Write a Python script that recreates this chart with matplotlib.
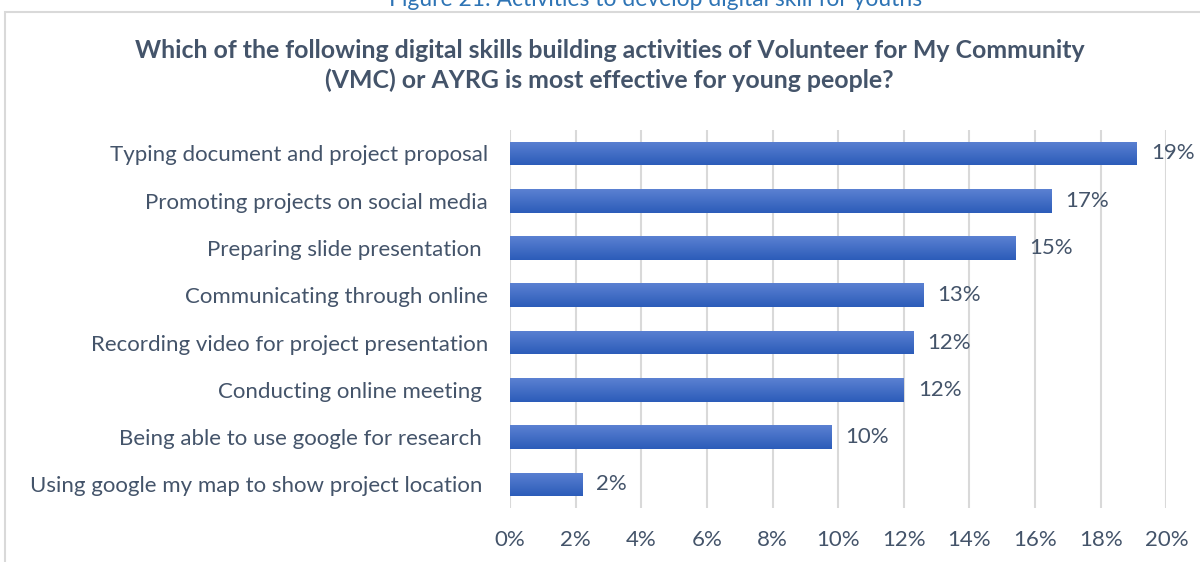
import numpy as np
import matplotlib.pyplot as plt
from matplotlib.patches import Rectangle
from matplotlib.ticker import PercentFormatter

plt.rcParams["font.family"] = ["Lato", "DejaVu Sans"]

labels = [
    "Typing document and project proposal",
    "Promoting projects on social media",
    "Preparing slide presentation ",
    "Communicating through online",
    "Recording video for project presentation",
    "Conducting online meeting ",
    "Being able to use google for research ",
    "Using google my map to show project location ",
]
values = [19.1, 16.5, 15.4, 12.6, 12.3, 12.0, 9.8, 2.2]
value_labels = ["19%", "17%", "15%", "13%", "12%", "12%", "10%", "2%"]
xticks = [0, 2, 4, 6, 8, 10, 12, 14, 16, 18, 20]

text_col = "#44546A"
grid_col = "#D9D9D9"

fig = plt.figure(figsize=(12, 5.62), dpi=100)
ax = fig.add_axes([0.425, 0.096, 0.547, 0.673])

y = np.arange(len(labels))
bars = ax.barh(y, values, height=0.5, color="#4472C4", zorder=2)

# vertical gradient inside each bar, lighter on top
grad = np.linspace(0, 1, 64).reshape(-1, 1)
cmap = plt.matplotlib.colors.LinearSegmentedColormap.from_list("bar", ["#5B81D2", "#2C5CB9"])
for b in bars:
    x0, y0 = b.get_x(), b.get_y()
    w, h = b.get_width(), b.get_height()
    im = ax.imshow(grad, cmap=cmap, aspect="auto", extent=[x0, x0 + w, y0 + h, y0],
                   zorder=3, origin="upper")
    im.set_clip_path(b)

for b, lab in zip(bars, value_labels):
    ax.annotate(lab, (b.get_width(), b.get_y() + b.get_height() / 2),
                xytext=(10, 0), textcoords="offset points", va="center", ha="left",
                fontsize=16, color=text_col)

ax.set_xlim(0, 20)
ax.set_ylim(len(labels) - 0.5, -0.5)
ax.set_xticks(xticks)
ax.xaxis.set_major_formatter(PercentFormatter(decimals=0))
ax.set_yticks(y)
ax.set_yticklabels(labels)
ax.tick_params(axis="both", length=0, labelsize=16, labelcolor=text_col)
ax.tick_params(axis="x", pad=16)
ax.tick_params(axis="y", pad=16)
ax.grid(axis="x", color=grid_col, linewidth=1.5, zorder=0)
ax.set_axisbelow(True)
for s in ax.spines.values():
    s.set_visible(False)

fig.text(0.508, 0.883, "Which of the following digital skills building activities of Volunteer for My Community\n"
         "(VMC) or AYRG is most effective for young people?",
         ha="center", va="center", fontsize=17.9, fontweight="bold", color=text_col, linespacing=1.32)

# chart frame and caption above it
fig.patches.append(Rectangle((0.004, -0.05), 1.2, 1 - 12 / 562 + 0.05, transform=fig.transFigure,
                             fill=False, edgecolor=grid_col, linewidth=1.5))
fig.text(0.546, 1.0, "Figure 21: Activities to develop digital skill for youths",
         ha="center", va="center", fontsize=16.5, color="#2E74B5")

fig.savefig("out.png", dpi=100)
